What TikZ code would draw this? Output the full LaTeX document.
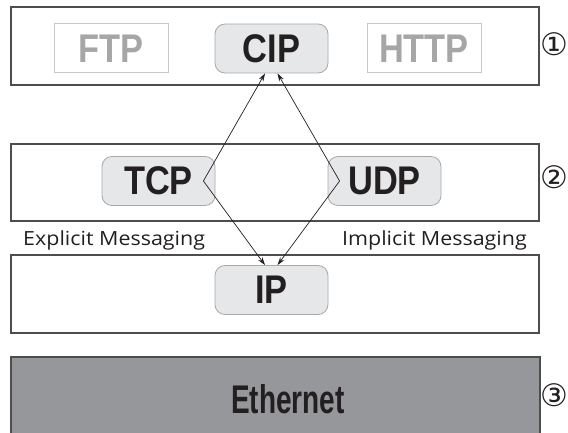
\documentclass[tikz,border=0pt]{standalone}
\usepackage{fontspec}
\setmainfont{Liberation Sans}
\newfontfamily\bigf[FakeStretch=0.86]{Liberation Sans Bold}
\newfontfamily\ethf[FakeStretch=0.7]{Liberation Sans Bold}
\newfontfamily\labf[FakeStretch=1.1]{Open Sans}
\newfontfamily\circf{DejaVu Sans}
\usetikzlibrary{arrows.meta}
\definecolor{txt}{HTML}{231F20}
\definecolor{boxfill}{HTML}{E6E7E8}
\definecolor{boxline}{HTML}{A7A9AC}
\definecolor{faint}{HTML}{C8C8C8}
\definecolor{fainttxt}{HTML}{A6A6A6}
\definecolor{layer}{HTML}{4D4D4D}
\definecolor{ethfill}{HTML}{96979A}
\tikzset{
  layerbox/.style={draw=layer, line width=1.4pt, fill=white},
  proto/.style={draw=boxline, fill=boxfill, rounded corners=10pt, line width=0.8pt,
    minimum width=113pt, minimum height=49pt, inner sep=0pt,
    font=\bigf\fontsize{40}{40}\selectfont, text=txt},
  protofaint/.style={draw=faint, fill=white, line width=1pt,
    minimum width=114pt, minimum height=49pt, inner sep=0pt,
    font=\bigf\fontsize{40}{40}\selectfont, text=fainttxt},
  lab/.style={font=\labf\fontsize{19.5}{19.5}\selectfont, text=txt, inner sep=0pt},
  num/.style={font=\circf\fontsize{31}{31}\selectfont, text=txt, inner sep=0pt},
  link/.style={draw=txt, line width=0.7pt, -{Stealth[length=8pt,width=5pt]}},
}
\begin{document}
\begin{tikzpicture}[x=1pt,y=-1pt]
\useasboundingbox (0,0) rectangle (568,433);
% layer boxes
\path[layerbox] (11,7) rectangle (539,85);
\path[layerbox] (11,144) rectangle (539,221);
\path[layerbox] (11,255) rectangle (539,333);
\path[draw=layer, line width=1.4pt, fill=ethfill] (11,440) -- (11,357) -- (540,357) -- (540,440);
\node[font=\ethf\fontsize{40}{40}\selectfont, text=txt, inner sep=0pt] (eth) at (288,399) {Ethernet};
% protocol boxes
\node[protofaint] (ftp) at (111,48.5) {FTP};
\node[proto] (cip) at (271.5,48.5) {CIP};
\node[protofaint] (http) at (424,48.5) {HTTP};
\node[proto] (tcp) at (158.5,181) {TCP};
\node[proto] (udp) at (384.5,181) {UDP};
\node[proto] (ip) at (271.5,290) {IP};
% labels
\node[lab, anchor=base west] (expl) at (23,245) {Explicit Messaging};
\node[lab, anchor=base east] (impl) at (527,245) {Implicit Messaging};
% numbers
\node[num] (n1) at (554.5,44) {①};
\node[num] (n2) at (554.5,177) {②};
\node[num] (n3) at (554.5,395) {③};
% connectors
\coordinate (tb) at ([xshift=-12pt]tcp.east);
\coordinate (ub) at ([xshift=12pt]udp.west);
\draw[link] (tb) -- ([xshift=-6.5pt]cip.south);
\draw[link] (tb) -- ([xshift=-6.5pt]ip.north);
\draw[link] (ub) -- ([xshift=6pt]cip.south);
\draw[link] (ub) -- ([xshift=6pt]ip.north);
\end{tikzpicture}
\end{document}
